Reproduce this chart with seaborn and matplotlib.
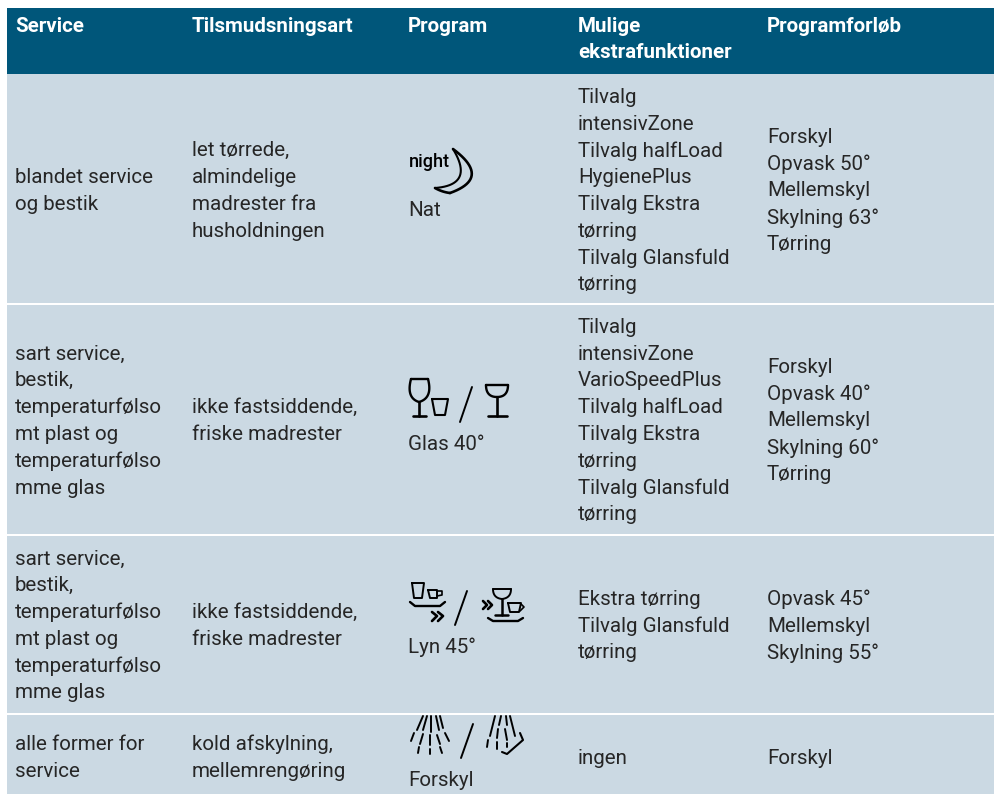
import numpy as np
import matplotlib
matplotlib.use('Agg')
import matplotlib.pyplot as plt
from matplotlib.colors import ListedColormap
import seaborn as sns

# table text
headers = [['Service'], ['Tilsmudsningsart'], ['Program'], ['Mulige', 'ekstrafunktioner'], ['Programforløb']]
service = [['blandet service', 'og bestik'],
           ['sart service,', 'bestik,', 'temperaturfølso', 'mt plast og', 'temperaturfølso', 'mme glas'],
           ['sart service,', 'bestik,', 'temperaturfølso', 'mt plast og', 'temperaturfølso', 'mme glas'],
           ['alle former for', 'service']]
soiling = [['let tørrede,', 'almindelige', 'madrester fra', 'husholdningen'],
           ['ikke fastsiddende,', 'friske madrester'],
           ['ikke fastsiddende,', 'friske madrester'],
           ['kold afskylning,', 'mellemrengøring']]
program = ['Nat', 'Glas 40°', 'Lyn 45°', 'Forskyl']
extras = [['Tilvalg', 'intensivZone', 'Tilvalg halfLoad', 'HygienePlus', 'Tilvalg Ekstra', 'tørring', 'Tilvalg Glansfuld', 'tørring'],
          ['Tilvalg', 'intensivZone', 'VarioSpeedPlus', 'Tilvalg halfLoad', 'Tilvalg Ekstra', 'tørring', 'Tilvalg Glansfuld', 'tørring'],
          ['Ekstra tørring', 'Tilvalg Glansfuld', 'tørring'],
          ['ingen']]
course = [['Forskyl', 'Opvask 50°', 'Mellemskyl', 'Skylning 63°', 'Tørring'],
          ['Forskyl', 'Opvask 40°', 'Mellemskyl', 'Skylning 60°', 'Tørring'],
          ['Opvask 45°', 'Mellemskyl', 'Skylning 55°'],
          ['Forskyl']]

# row bands in pixels: 0 white, 1 header, 2 body
band_kinds = [0, 1, 2, 0, 2, 0, 2, 0, 2]
band_heights = [8, 66, 229, 2, 229, 2, 177, 2, 79]
col_x = [15, 192, 408, 578, 767]
row_mid = [191, 421, 626, 758]
program_y = [211, 444, 647, 780]
line_gap = 26.8
FONT = 'Roboto'
SIZE = 14.8
TEXT = '#262626'

grid = np.repeat(band_kinds, band_heights).reshape(-1, 1) * np.ones((1, 994), dtype=int)
grid[:, :7] = 0

fig = plt.figure(figsize=(9.94, 7.94), dpi=100)
ax = fig.add_axes([0, 0, 1, 1])
sns.heatmap(grid, ax=ax, cmap=ListedColormap(['white', '#00567A', '#CBD9E3']), vmin=0, vmax=2,
            cbar=False, xticklabels=False, yticklabels=False)


def block(x, mid, lines):
    top = mid - line_gap * (len(lines) - 1) / 2
    for i, line in enumerate(lines):
        ax.text(x, top + i * line_gap, line, fontsize=SIZE, family=FONT, color=TEXT, va='center')


def stroke(points, lw=1.7):
    xs, ys = zip(*points)
    ax.plot(xs, ys, color='black', lw=lw, solid_capstyle='round', solid_joinstyle='round')


def curve(p0, c, p1, lw=1.7):
    # quadratic bezier between two points
    t = np.linspace(0, 1, 24)[:, None]
    pts = (1 - t) ** 2 * np.array(p0) + 2 * t * (1 - t) * np.array(c) + t ** 2 * np.array(p1)
    stroke(pts, lw)


for x, lines in zip(col_x, headers):
    for i, line in enumerate(lines):
        ax.text(x, 26 + i * 26, line, fontsize=SIZE, family=FONT, weight='bold', color='white', va='center')

for col, x in [(service, col_x[0]), (soiling, col_x[1]), (extras, col_x[3]), (course, col_x[4])]:
    for mid, lines in zip(row_mid, col):
        block(x, mid, lines)

for y, name in zip(program_y, program):
    ax.text(col_x[2], y, name, fontsize=SIZE, family=FONT, color=TEXT, va='center')

# night icon
ax.text(409, 162, 'night', fontsize=13, family=FONT, weight='medium', color='black', va='center')
curve((453, 149), (492, 178), (450, 193), lw=1.9)
curve((450, 193), (442, 192), (435, 188), lw=1.9)
curve((453, 149), (475, 185), (435, 188), lw=1.5)

# glass icons, row 2
stroke([(411, 379), (428, 379)])
curve((411, 379), (406, 398), (419, 402))
curve((428, 379), (433, 398), (419, 402))
stroke([(419, 402), (419, 416)], lw=1.9)
stroke([(413, 416), (426, 416)], lw=1.9)
stroke([(432, 399), (448, 399), (445, 415), (435, 415), (432, 399)], lw=1.5)
stroke([(472, 387), (460, 422)], lw=1.4)
stroke([(486, 385), (508, 385)])
curve((486, 385), (486, 397), (497, 397))
curve((508, 385), (508, 397), (497, 397))
stroke([(497, 397), (497, 416)], lw=1.9)
stroke([(488, 416), (507, 416)], lw=1.9)

# quick wash icons, row 3
stroke([(412, 583), (414, 598), (422, 598), (424, 583), (412, 583)], lw=1.4)
stroke([(428, 590), (437, 590), (437, 598), (430, 598), (428, 590)], lw=1.4)
stroke([(437, 591), (442, 591), (442, 595), (437, 596)], lw=1.2)
stroke([(410, 602), (415, 606), (440, 606), (445, 602)])
stroke([(432, 612), (437, 616), (432, 621)], lw=1.9)
stroke([(438, 612), (443, 616), (438, 621)], lw=1.9)
stroke([(467, 591), (455, 625)], lw=1.4)
stroke([(483, 601), (487, 605), (483, 609)], lw=1.9)
stroke([(488, 601), (492, 605), (488, 609)], lw=1.9)
stroke([(493, 589), (511, 589)], lw=1.4)
curve((493, 589), (493, 598), (502, 599), lw=1.4)
curve((511, 589), (511, 598), (502, 599), lw=1.4)
stroke([(502, 599), (502, 615)], lw=1.8)
stroke([(495, 615), (508, 615)], lw=1.8)
stroke([(508, 603), (521, 603), (519, 612), (510, 612), (508, 603)], lw=1.4)
stroke([(521, 604), (524, 607), (520, 611)], lw=1.2)
stroke([(488, 618), (493, 621), (518, 621), (523, 618)])

# pre-rinse icons, row 4
spray_left = [((423, 716), (417, 730)), ((427, 716), (423, 730)), ((431, 716), (431, 732)), ((436, 716), (439, 730)),
              ((440, 716), (443, 728)), ((414, 733), (411, 741)), ((423, 734), (420, 744)), ((430, 735), (430, 745)),
              ((437, 735), (440, 744)), ((445, 733), (449, 741)), ((419, 747), (418, 753)), ((430, 749), (430, 754)),
              ((440, 747), (442, 753))]
for seg in spray_left:
    stroke(seg, lw=1.4)
stroke([(473, 724), (461, 758)], lw=1.4)
spray_right = [((495, 716), (490, 736)), ((501, 716), (499, 725)), ((506, 716), (507, 725)), ((510, 716), (515, 736)),
               ((498, 729), (497, 738)), ((505, 729), (507, 740)), ((488, 740), (487, 747)), ((497, 742), (497, 749)),
               ((507, 743), (507, 747))]
for seg in spray_right:
    stroke(seg, lw=1.4)
stroke([(502, 752), (507, 754), (523, 740), (520, 733)], lw=1.5)

ax.set_xlim(0, 994)
ax.set_ylim(794, 0)
fig.savefig('out.png', dpi=100)
